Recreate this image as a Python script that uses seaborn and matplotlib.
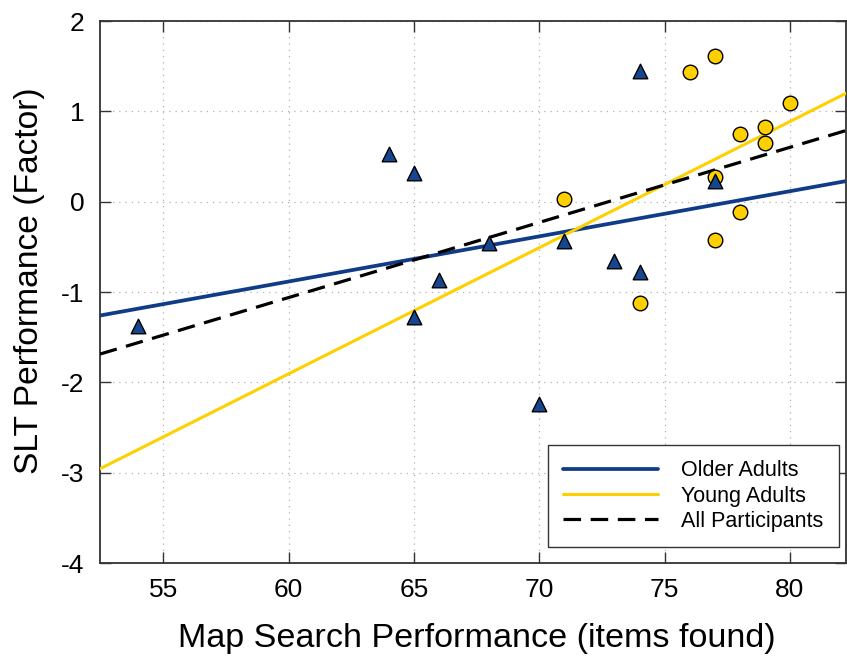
import numpy as np
import pandas as pd
import matplotlib
matplotlib.use("Agg")
import matplotlib.pyplot as plt
import seaborn as sns

# данные
older_x = [54, 64, 65, 66, 65, 68, 71, 73, 74, 74, 77, 70]
older_y = [-1.38, 0.53, 0.32, -0.86, -1.27, -0.46, -0.43, -0.65, -0.78, 1.45, 0.23, -2.24]
young_x = [71, 76, 77, 80, 78, 79, 79, 77, 78, 77, 74]
young_y = [0.03, 1.44, 1.61, 1.09, 0.75, 0.83, 0.65, 0.28, -0.11, -0.42, -1.12]

x_ticks = [55, 60, 65, 70, 75, 80]
y_ticks = [2, 1, 0, -1, -2, -3, -4]
labels = ['Older Adults', 'Young Adults', 'All Participants']

older = pd.DataFrame({'x': older_x, 'y': older_y})
young = pd.DataFrame({'x': young_x, 'y': young_y})
both = pd.concat([older, young], ignore_index=True)

sns.set_theme(style="ticks")
plt.rcParams['font.family'] = ['Liberation Sans', 'DejaVu Sans']
plt.rcParams['text.color'] = 'black'
plt.rcParams['axes.labelcolor'] = 'black'

blue = '#0f3b87'
gold = '#ffd000'

fig = plt.figure(figsize=(8.47, 6.61), dpi=100)
ax = fig.add_axes([0.118, 0.148, 0.881, 0.820])
ax.set_xlim(52.48, 82.24)
ax.set_ylim(-4, 2)

# линии регрессии
sns.regplot(data=older, x='x', y='y', ax=ax, scatter=False, ci=None, truncate=False,
            line_kws=dict(color=blue, lw=2.7, zorder=3))
sns.regplot(data=young, x='x', y='y', ax=ax, scatter=False, ci=None, truncate=False,
            line_kws=dict(color=gold, lw=2.2, zorder=3))
sns.regplot(data=both, x='x', y='y', ax=ax, scatter=False, ci=None, truncate=False,
            line_kws=dict(color='black', lw=2.3, ls=(0, (5.5, 3)), zorder=3))
line_handles = list(ax.lines[:3])

# точки
sns.scatterplot(data=young, x='x', y='y', ax=ax, marker='o', s=110, color=gold,
                edgecolor='black', linewidth=1.0, zorder=4, legend=False)
sns.scatterplot(data=older, x='x', y='y', ax=ax, marker='^', s=110, color='#174690',
                edgecolor='black', linewidth=1.0, zorder=5, legend=False)

ax.set_xlim(52.48, 82.24)
ax.set_ylim(-4, 2)
ax.set_xticks(x_ticks)
ax.set_yticks(y_ticks)
ax.set_yticklabels([str(t) for t in y_ticks])
ax.tick_params(direction='in', length=8, width=1, top=True, right=True,
               labelsize=19, pad=11, colors='#333333', labelcolor='black')
ax.grid(True, ls=(0, (1, 4)), color='#b0b0b0', lw=0.9)
for s in ax.spines.values():
    s.set_color('#333333')
    s.set_linewidth(1.3)

ax.set_xlabel('Map Search Performance (items found)', fontsize=24.6)
ax.set_ylabel('SLT Performance (Factor)', fontsize=24.2)
ax.xaxis.set_label_coords(0.505, -0.111, transform=ax.transAxes)
ax.yaxis.set_label_coords(-0.074, 0.522, transform=ax.transAxes)

leg = ax.legend(line_handles, labels, loc='lower right', fontsize=15.5, frameon=True,
                fancybox=False, handlelength=4.4, handletextpad=1.1, borderpad=0.7,
                labelspacing=0.2, bbox_to_anchor=(0.99, 0.03), borderaxespad=0)
leg.get_frame().set_edgecolor('#333333')
leg.get_frame().set_linewidth(1.0)
leg.get_frame().set_alpha(1)

plt.savefig('out.png', dpi=100)
